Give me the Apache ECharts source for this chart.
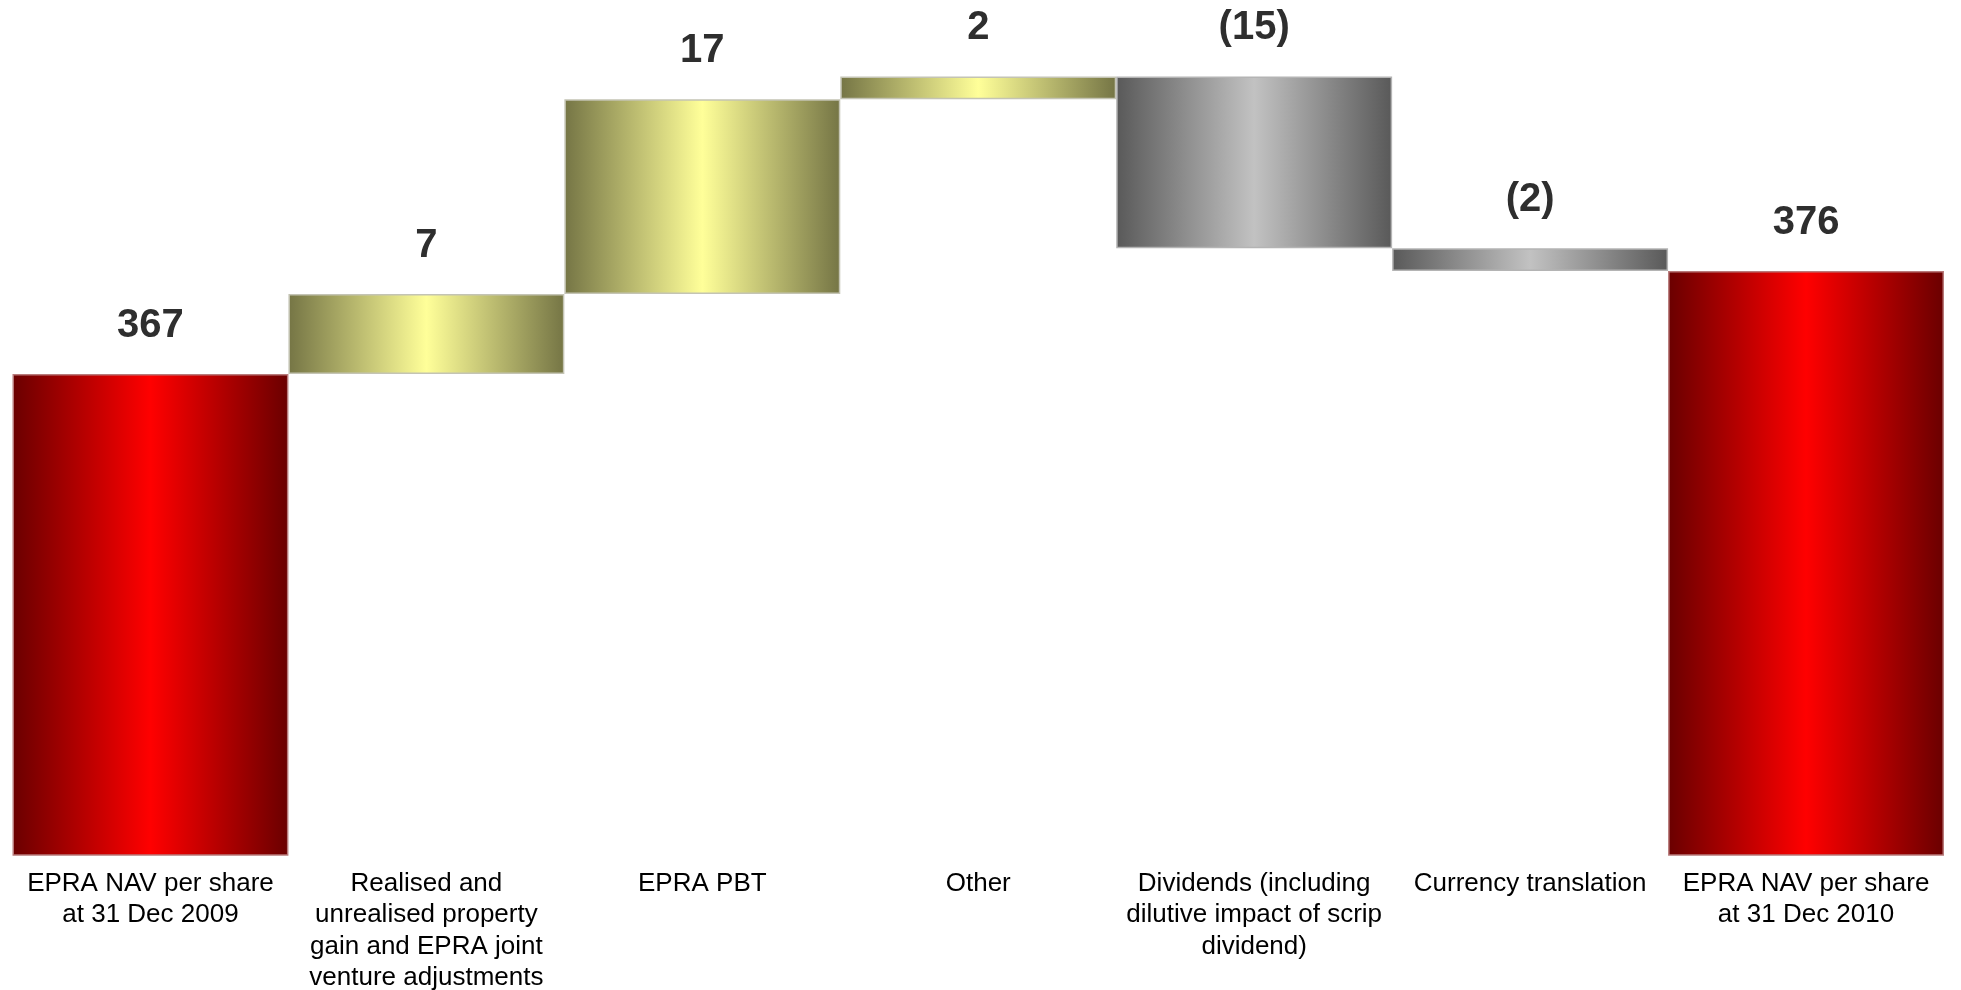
<!DOCTYPE html>
<html>
<head>
<meta charset="utf-8">
<title>EPRA NAV per share bridge</title>
<script src="https://cdn.jsdelivr.net/npm/echarts@6/dist/echarts.min.js"></script>
<style>
  html, body { margin: 0; padding: 0; background: #ffffff; }
  #chart { width: 1961px; height: 990px; }
</style>
</head>
<body>
<div id="chart"></div>
<script>
// Bridge steps, left to right
const categories = [
  'EPRA NAV per share\nat 31 Dec 2009',
  'Realised and\nunrealised property\ngain and EPRA joint\nventure adjustments',
  'EPRA PBT',
  'Other',
  'Dividends (including\ndilutive impact of scrip\ndividend)',
  'Currency translation',
  'EPRA NAV per share\nat 31 Dec 2010'
];
// Signed movement for each step; totals hold the NAV level itself
const values = [367, 7, 17, 2, -15, -2, 376];
// Which steps are totals (drawn from the axis floor)
const isTotal = [true, false, false, false, false, false, true];

// Running level -> invisible base + visible step height
const baseData = [];
const stepData = [];
let level = 0;
values.forEach(function (v, i) {
  if (isTotal[i]) {
    baseData.push(0);
    stepData.push(v);
    level = v;
  } else if (v >= 0) {
    baseData.push(level);
    stepData.push(v);
    level += v;
  } else {
    level += v;
    baseData.push(level);
    stepData.push(-v);
  }
});

function hGrad(edge, mid) {
  return new echarts.graphic.LinearGradient(0, 0, 1, 0, [
    { offset: 0, color: edge },
    { offset: 0.5, color: mid },
    { offset: 1, color: edge }
  ]);
}
const redFill = hGrad('#6a0000', '#ff0000');
const oliveFill = hGrad('#757545', '#ffff99');
const greyFill = hGrad('#595959', '#c2c2c2');

const stepItems = stepData.map(function (h, i) {
  let fill, border;
  if (isTotal[i]) { fill = redFill; border = '#b87a7a'; }
  else if (values[i] >= 0) { fill = oliveFill; border = '#c4c4b4'; }
  else { fill = greyFill; border = '#b4b4b4'; }
  return { value: h, itemStyle: { color: fill, borderColor: border, borderWidth: 1.5 } };
});

const chart = echarts.init(document.getElementById('chart'), null, { renderer: 'canvas' });
chart.setOption({
  backgroundColor: '#ffffff',
  animation: false,
  grid: { left: 12.5, right: 17, top: 53.5, bottom: 135, containLabel: false, outerBoundsMode: 'none' },
  xAxis: {
    type: 'category',
    data: categories,
    axisLine: { show: false },
    axisTick: { show: false },
    axisLabel: {
      interval: 0,
      margin: 13,
      color: '#000000',
      fontFamily: 'Liberation Sans, Arial, sans-serif',
      fontSize: 26,
      lineHeight: 31.5,
      verticalAlign: 'top'
    }
  },
  yAxis: {
    type: 'value',
    min: 325,
    max: 395,
    show: false,
    splitLine: { show: false }
  },
  series: [
    {
      name: 'base',
      type: 'bar',
      stack: 'bridge',
      silent: true,
      barWidth: '100%',
      barCategoryGap: 0,
      itemStyle: { color: 'transparent' },
      emphasis: { disabled: true },
      data: baseData
    },
    {
      name: 'step',
      type: 'bar',
      stack: 'bridge',
      clip: true,
      barWidth: '100%',
      barCategoryGap: 0,
      emphasis: { disabled: true },
      label: {
        show: true,
        position: 'top',
        distance: 28,
        color: '#2e2e2e',
        fontFamily: 'Liberation Sans, Arial, sans-serif',
        fontWeight: 'bold',
        fontSize: 40,
        lineHeight: 40,
        formatter: function (p) {
          const v = values[p.dataIndex];
          return v < 0 ? '(' + (-v) + ')' : String(v);
        }
      },
      data: stepItems
    }
  ]
});
</script>
</body>
</html>
